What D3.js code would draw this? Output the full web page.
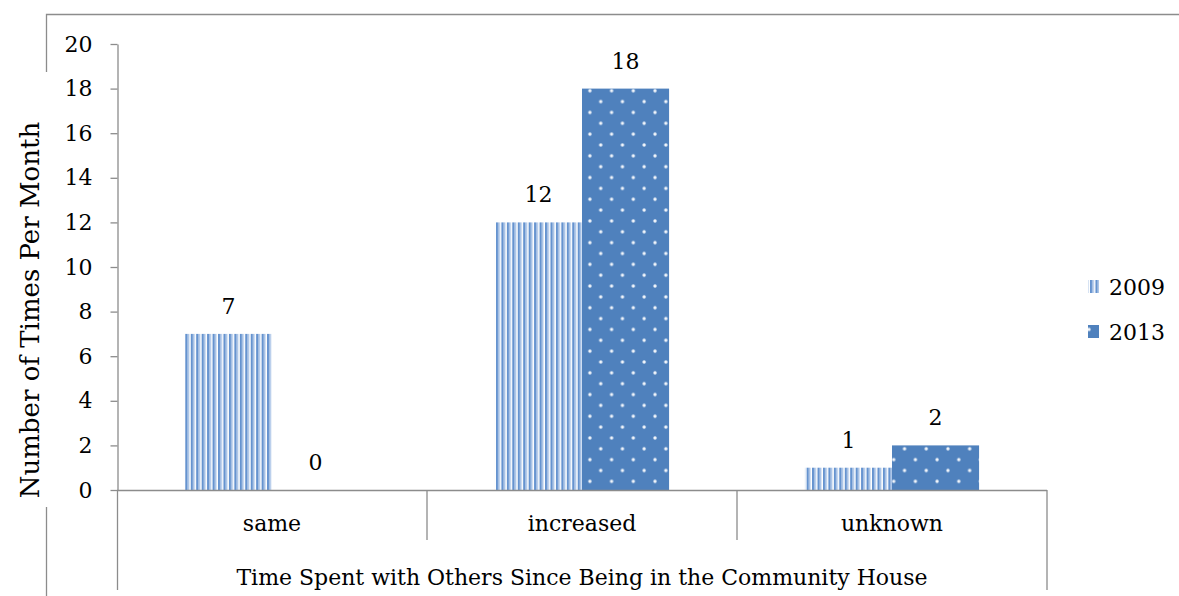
<!DOCTYPE html>
<html><head><meta charset="utf-8">
<script src="https://cdn.jsdelivr.net/npm/d3@7/dist/d3.min.js"></script>
<style>body{margin:0;background:#fff}svg{display:block}text{font-family:"DejaVu Serif",serif;fill:#000}</style>
</head><body><svg id="c" width="1179" height="596"></svg>
<script>
const categories = ["same", "increased", "unknown"];
const seriesNames = ["2009", "2013"];
const values2009 = [7, 12, 1];
const values2013 = [0, 18, 2];
const yTicks = [0, 2, 4, 6, 8, 10, 12, 14, 16, 18, 20];
const xTitle = "Time Spent with Others Since Being in the Community House";
const yTitle = "Number of Times Per Month";

const svg = d3.select("#c");
const defs = svg.append("defs");
const stripe = defs.append("pattern").attr("id","p2009").attr("patternUnits","userSpaceOnUse").attr("width",5.45).attr("height",10);
stripe.append("rect").attr("width",5.45).attr("height",10).attr("fill","#ffffff");
stripe.append("rect").attr("x",0).attr("width",2.4).attr("height",10).attr("fill","#6593cf");
stripe.append("rect").attr("x",2.4).attr("width",1.6).attr("height",10).attr("fill","#adc6e8");
const dots = defs.append("pattern").attr("id","p2013").attr("patternUnits","userSpaceOnUse").attr("width",21.7).attr("height",21.7);
dots.append("rect").attr("width",21.7).attr("height",21.7).attr("fill","#4f81bd");
dots.append("circle").attr("cx",4).attr("cy",4).attr("r",1.7).attr("fill","#f2f6fb");
dots.append("circle").attr("cx",14.85).attr("cy",14.85).attr("r",1.7).attr("fill","#f2f6fb");

const fills = ["url(#p2009)", "url(#p2013)"];
const data = categories.map((c,i)=>({cat:c, vals:[values2009[i], values2013[i]]}));

const x0 = d3.scaleBand().domain(categories).range([117,1047]).paddingInner(0).paddingOuter(0);
const x1 = d3.scaleBand().domain(seriesNames).range([0,x0.bandwidth()]).paddingInner(0).paddingOuter(0.78);
const y = d3.scaleLinear().domain([0,20]).range([490,44]);

const grey = "#8c8c8c";
svg.append("path").attr("d","M46.5,72 V14.5 H1179").attr("fill","none").attr("stroke",grey).attr("stroke-width",1.3);
svg.append("line").attr("x1",46.5).attr("x2",46.5).attr("y1",507).attr("y2",596).attr("stroke",grey).attr("stroke-width",1.3);

const g = svg.append("g");
data.forEach(d=>{
  d.vals.forEach((v,j)=>{
    const xx = x0(d.cat)+x1(seriesNames[j]);
    if (v>0) g.append("rect").attr("x",xx).attr("y",y(v)).attr("width",x1.bandwidth()).attr("height",y(0)-y(v)).attr("fill",fills[j]);
    g.append("text").attr("x",xx+x1.bandwidth()/2).attr("y",y(v)-20).attr("text-anchor","middle").attr("font-size",22).text(v);
  });
});

const yAxis = d3.axisLeft(y).tickValues(yTicks).tickSize(7).tickSizeOuter(0).tickPadding(18);
const ya = svg.append("g").attr("transform","translate(117.5,0)").call(yAxis);
ya.select(".domain").attr("stroke",grey).attr("stroke-width",1.3);
ya.selectAll(".tick line").attr("stroke",grey).attr("stroke-width",1.3);
ya.selectAll(".tick text").attr("font-size",22).attr("font-family","DejaVu Serif").attr("fill","#000");
svg.append("line").attr("x1",117.5).attr("x2",117.5).attr("y1",490).attr("y2",590).attr("stroke",grey).attr("stroke-width",1.3);

svg.append("line").attr("x1",117).attr("x2",1047).attr("y1",490.5).attr("y2",490.5).attr("stroke",grey).attr("stroke-width",1.3);
categories.forEach((c,i)=>{
  const xr = x0(c)+x0.bandwidth();
  svg.append("line").attr("x1",xr).attr("x2",xr).attr("y1",490).attr("y2", i===categories.length-1?590:540).attr("stroke",grey).attr("stroke-width",1.3);
  svg.append("text").attr("x",x0(c)+x0.bandwidth()/2).attr("y",531).attr("text-anchor","middle").attr("font-size",22).text(c);
});
svg.append("text").attr("x",(117+1047)/2).attr("y",585).attr("text-anchor","middle").attr("font-size",22).text(xTitle);

svg.append("text").attr("transform","translate(39,310) rotate(-90)").attr("text-anchor","middle").attr("font-size",26).text(yTitle);

seriesNames.forEach((s,i)=>{
  const ly = 287 + i*45;
  svg.append("rect").attr("x",1088).attr("y",ly-7).attr("width",11).attr("height",13).attr("fill",fills[i]);
  svg.append("text").attr("x",1109).attr("y",ly+8).attr("font-size",22).text(s);
});
</script></body></html>
